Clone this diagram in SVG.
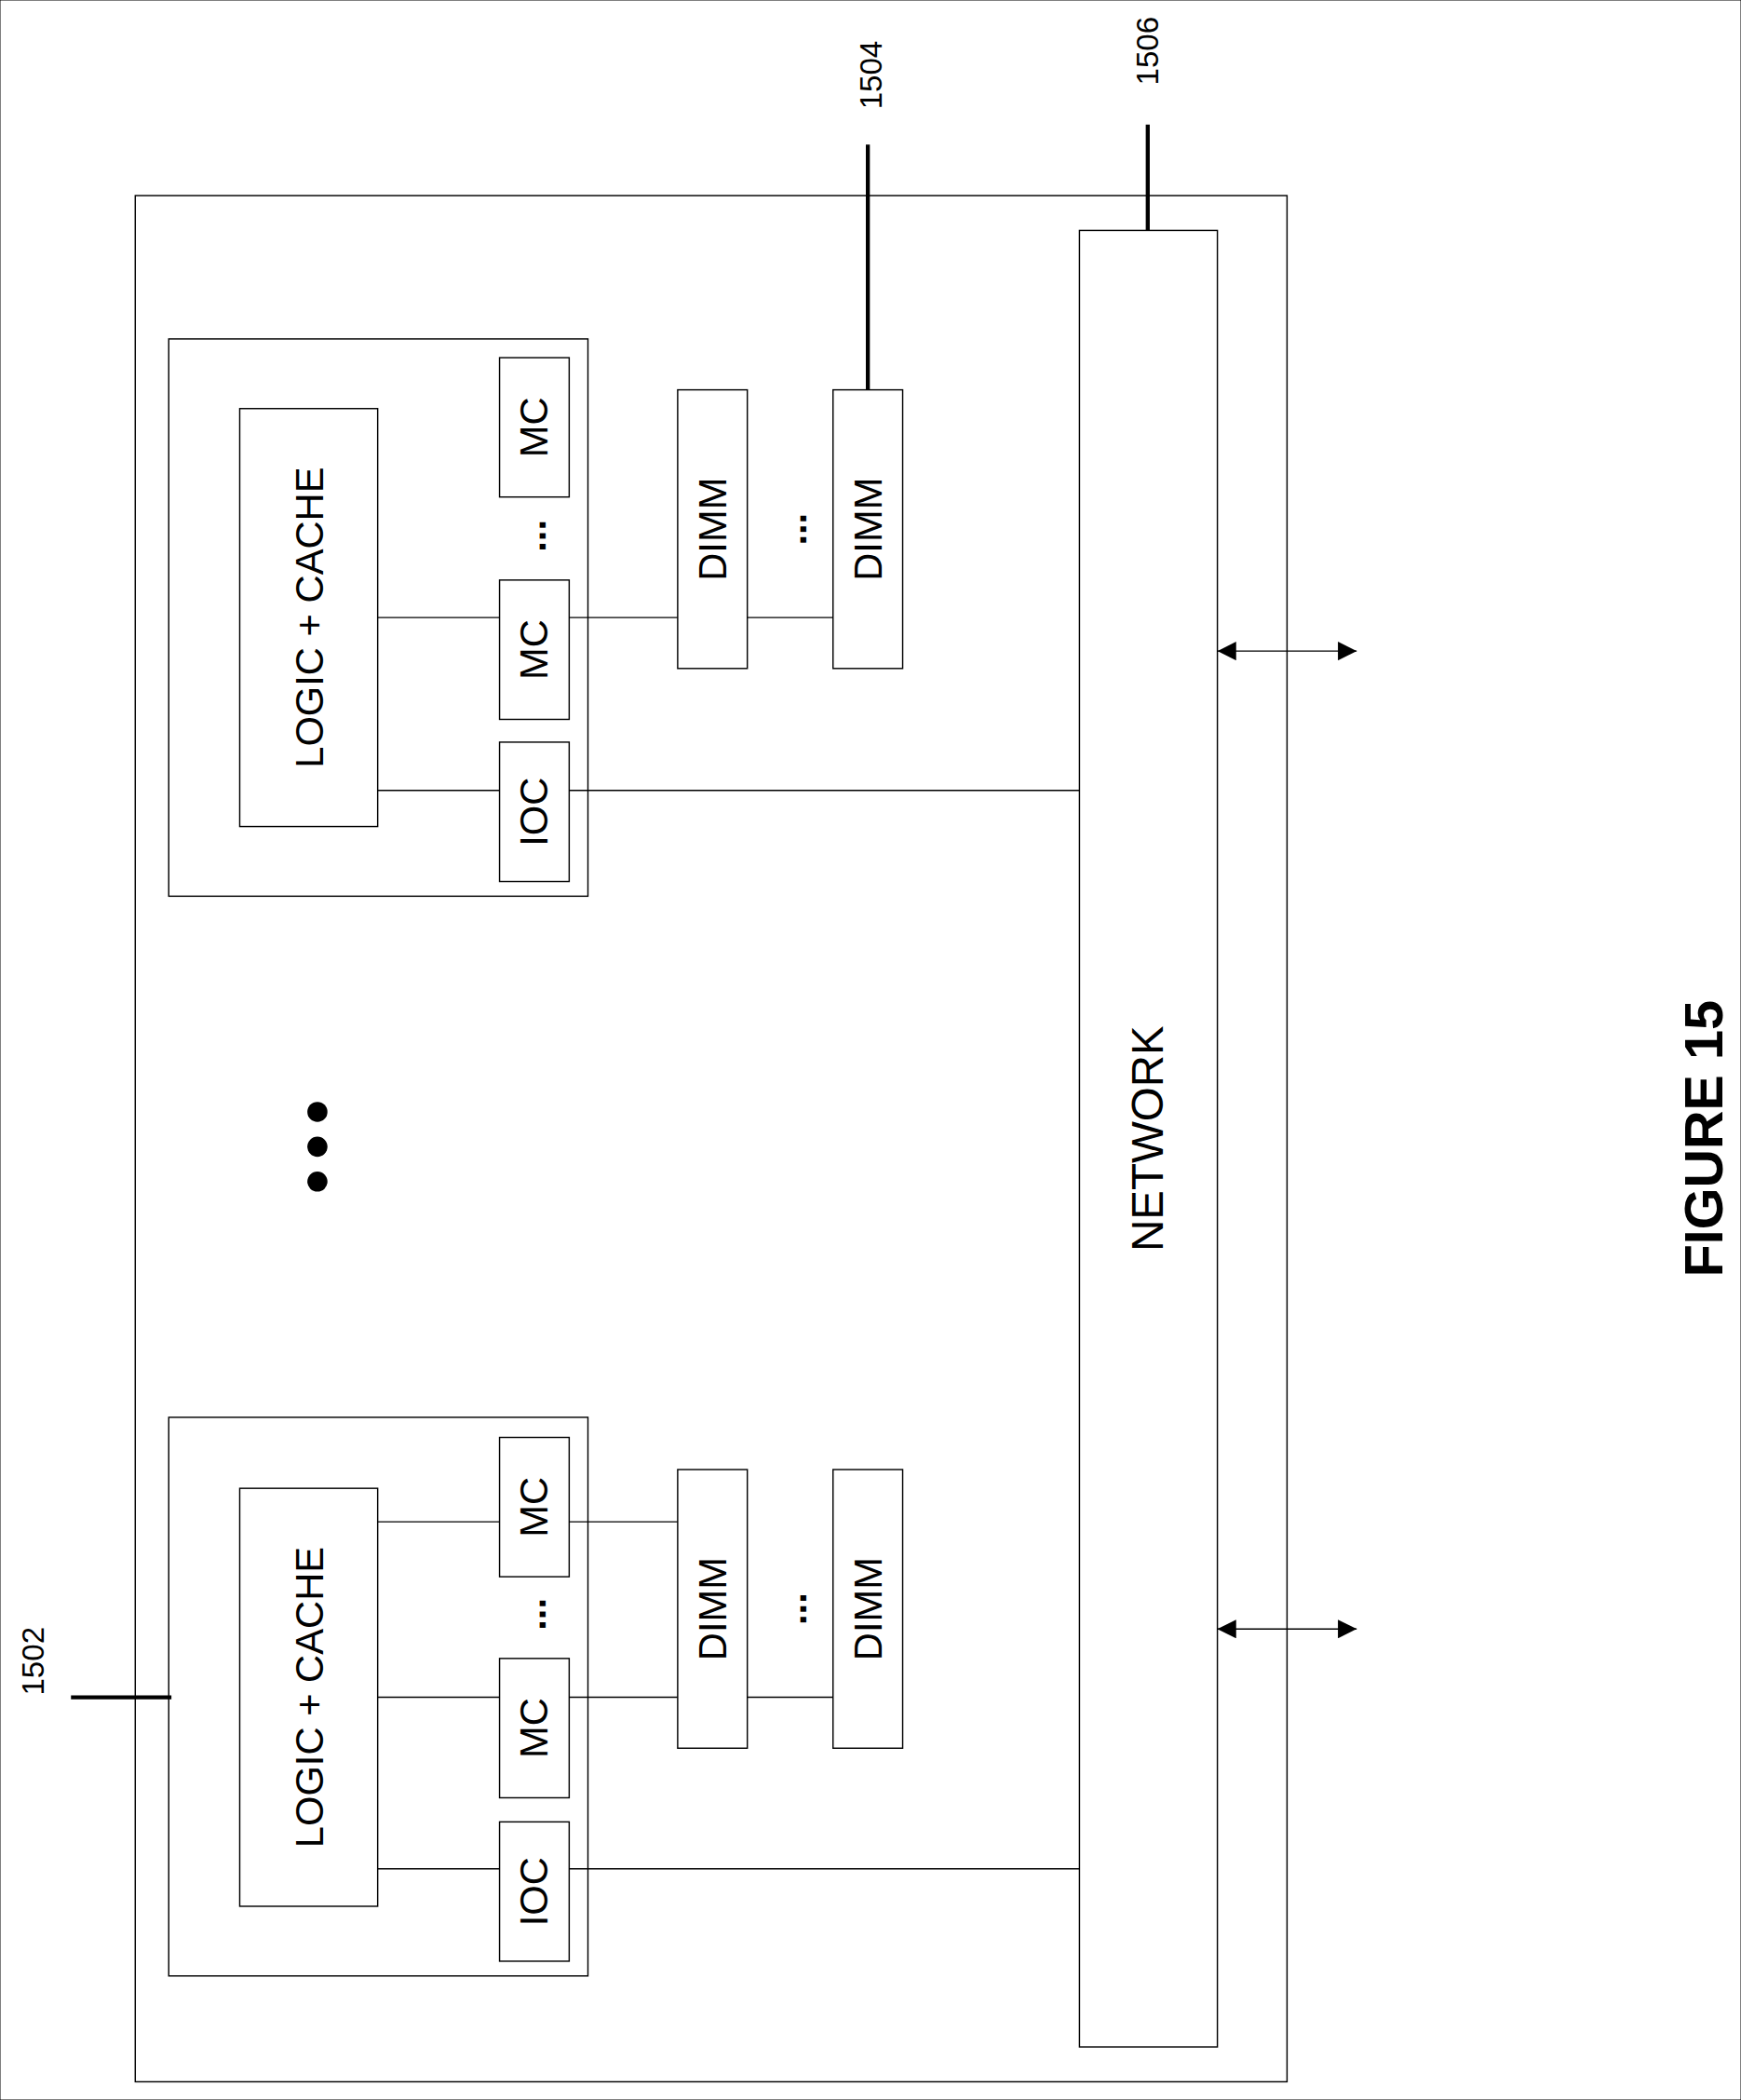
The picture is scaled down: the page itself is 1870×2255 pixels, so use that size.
<svg xmlns="http://www.w3.org/2000/svg" width="1870" height="2255" viewBox="0 0 1870 2255">
<style>
rect{fill:#fff;stroke:#000;stroke-width:1}
line{stroke:#000;stroke-width:1}
.lead{stroke-width:3}
text{font-family:"Liberation Sans",Arial,sans-serif;font-size:29px;text-anchor:middle;dominant-baseline:central}
.net{font-size:33px}
.dots{font-weight:bold;font-size:29px}
.ref{font-size:23px}
.fig{font-size:40px;font-weight:bold}
</style>
<defs>
<marker id="ah" viewBox="0 0 10 10" refX="10" refY="5" markerWidth="14" markerHeight="14" markerUnits="userSpaceOnUse" orient="auto-start-reverse"><path d="M0,0L10,5L0,10z" fill="#000"/></marker>
</defs>
<rect width="1870" height="2255" fill="#fff" stroke="none"/>
<g transform="scale(1.4385)">
<g id="outer"><rect x="101" y="146" width="860" height="1408"/></g>
<g id="network"><rect x="806" y="172" width="103" height="1356"/><text class="net" transform="translate(857,850) rotate(-90)">NETWORK</text></g>
<g id="chip-top">
<rect x="126" y="253" width="313" height="416"/>
<rect x="179" y="305" width="103" height="312"/><text transform="translate(231,461) rotate(-90)">LOGIC + CACHE</text>
<rect x="373" y="267" width="52" height="104"/><text transform="translate(399,319) rotate(-90)">MC</text>
<text class="dots" transform="translate(397,400) rotate(-90)">...</text>
<rect x="373" y="433" width="52" height="104"/><text transform="translate(399,485) rotate(-90)">MC</text>
<rect x="373" y="554" width="52" height="104"/><text transform="translate(399,606) rotate(-90)">IOC</text>
</g>
<g id="dimm-top">
<rect x="506" y="291" width="52" height="208"/><text transform="translate(532,395) rotate(-90)">DIMM</text>
<text class="dots" transform="translate(592,395) rotate(-90)">...</text>
<rect x="622" y="291" width="52" height="208"/><text transform="translate(648,395) rotate(-90)">DIMM</text>
</g>
<g id="chip-bottom">
<rect x="126" y="1058" width="313" height="417"/>
<rect x="179" y="1111" width="103" height="312"/><text transform="translate(231,1267) rotate(-90)">LOGIC + CACHE</text>
<rect x="373" y="1073" width="52" height="104"/><text transform="translate(399,1125) rotate(-90)">MC</text>
<text class="dots" transform="translate(397,1205) rotate(-90)">...</text>
<rect x="373" y="1238" width="52" height="104"/><text transform="translate(399,1290) rotate(-90)">MC</text>
<rect x="373" y="1360" width="52" height="104"/><text transform="translate(399,1412) rotate(-90)">IOC</text>
</g>
<g id="dimm-bottom">
<rect x="506" y="1097" width="52" height="208"/><text transform="translate(532,1201) rotate(-90)">DIMM</text>
<text class="dots" transform="translate(592,1201) rotate(-90)">...</text>
<rect x="622" y="1097" width="52" height="208"/><text transform="translate(648,1201) rotate(-90)">DIMM</text>
</g>
<g id="ellipsis"><circle cx="237" cy="830" r="7.5"/><circle cx="237" cy="856" r="7.5"/><circle cx="237" cy="882" r="7.5"/></g>
<g id="connectors">
<line x1="282" y1="461" x2="373" y2="461"/><line x1="425" y1="461" x2="506" y2="461"/><line x1="558" y1="461" x2="622" y2="461"/>
<line x1="282" y1="590" x2="373" y2="590"/><line x1="425" y1="590" x2="806" y2="590"/>
<line x1="282" y1="1136" x2="373" y2="1136"/><line x1="425" y1="1136" x2="506" y2="1136"/>
<line x1="282" y1="1267" x2="373" y2="1267"/><line x1="425" y1="1267" x2="506" y2="1267"/><line x1="558" y1="1267" x2="622" y2="1267"/>
<line x1="282" y1="1395" x2="373" y2="1395"/><line x1="425" y1="1395" x2="806" y2="1395"/>
<line x1="909" y1="486" x2="1013" y2="486" marker-start="url(#ah)" marker-end="url(#ah)"/>
<line x1="909" y1="1216" x2="1013" y2="1216" marker-start="url(#ah)" marker-end="url(#ah)"/>
<line class="lead" x1="648" y1="108" x2="648" y2="291"/>
<line class="lead" x1="857" y1="93" x2="857" y2="172"/>
<line class="lead" x1="53" y1="1267" x2="128" y2="1267"/>
</g>
<g id="labels">
<text class="ref" transform="translate(650,56) rotate(-90)">1504</text>
<text class="ref" transform="translate(857,38) rotate(-90)">1506</text>
<text class="ref" transform="translate(25,1240) rotate(-90)">1502</text>
<text class="fig" transform="translate(1272,850) rotate(-90)">FIGURE 15</text>
</g>
</g>
</svg>
